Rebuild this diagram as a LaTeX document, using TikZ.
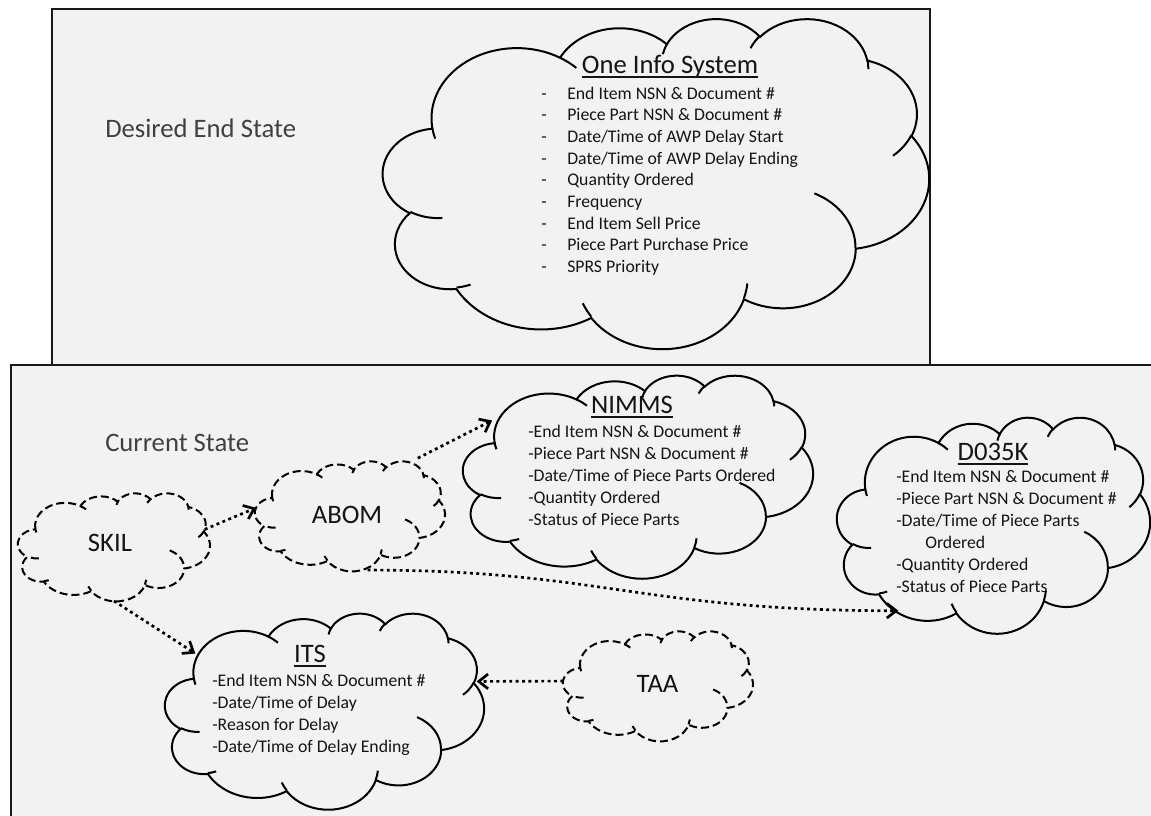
\documentclass[tikz,border=0pt]{standalone}
\usepackage{fontspec}
\setmainfont{Carlito}
\usetikzlibrary{arrows.meta,shapes.geometric}

\definecolor{panel}{HTML}{F2F2F2}
\definecolor{ink}{HTML}{141414}
\definecolor{statecol}{HTML}{404040}

% Elliptic arcs are given by "visual" angles (as seen from the arc centre);
% vis() turns such an angle into TikZ's parametric angle.
\tikzset{
  declare function={
    vis(\pA,\pX,\pY)=atan2(\pX*sin(\pA),\pY*cos(\pA));
    dvis(\pA,\pS,\pX,\pY)=mod(vis(\pA+\pS,\pX,\pY)-vis(\pA,\pX,\pY)+720,360);
  },
  cloudbox/.style 2 args={ellipse, minimum width={#1*0.75pt}, minimum height={#2*0.75pt},
    inner sep=0pt, outer sep=0pt},
  solidcloud/.style={draw=black, line width=1.5pt},
  dashcloud/.style={draw=black, line width=1.5pt, dash pattern=on 6pt off 3pt},
  panelbox/.style={fill=panel, draw=black!90, line width=1.8pt},
  link/.style={line width=2pt, dash pattern=on 2.2pt off 2.6pt,
    -{Straight Barb[length=7pt,width=11pt]}},
  itemtext/.style={font=\fontsize{13.3}{16}\selectfont, text=ink, anchor=base west, inner sep=0pt},
  titletext/.style={font=\fontsize{20}{24}\selectfont, text=ink, anchor=base, inner sep=0pt},
  cloudlabel/.style={font=\fontsize{20}{24}\selectfont, text=ink, anchor=base, inner sep=0pt},
  statelabel/.style={font=\fontsize{20}{24}\selectfont, text=statecol, anchor=base west, inner sep=0pt},
}

% one arc: x radius, y radius, start angle, sweep
\newcommand\carc[4]{arc[start angle={vis(#3,#1,#2)}, delta angle={dvis(#3,#4,#1,#2)},
  x radius=#1, y radius=#2]}

% cloud outline in a 43.2 x 43.2 frame (y downwards)
\newcommand\cloudoutline{(3.9,14.37)
  \carc{6.753}{9.19}{-190.4875}{123.7805}
  \carc{5.333}{7.267}{-144.1024}{89.9452}
  \carc{4.365}{5.945}{-145.8079}{99.7230}
  \carc{4.857}{6.595}{-130.9861}{117.2417}
  \carc{5.333}{7.273}{-78.7089}{109.0269}
  \carc{6.775}{9.22}{-46.2673}{130.2690}
  \carc{5.785}{7.867}{0.6250}{114.0333}
  \carc{6.752}{9.215}{22.4516}{115.1726}
  \carc{7.72}{10.543}{66.2426}{75.7110}
  \carc{4.36}{5.918}{-274.9421}{146.7356}
  \carc{4.345}{5.945}{-246.8285}{152.5189}
  -- cycle}

% the small inner folds of the cloud
\newcommand\cloudinner{
  (4.693,26.177) \carc{4.345}{5.945}{86.742}{26.4295}
  (6.928,34.899) \carc{4.36}{5.918}{73.6105}{11.4475}
  (16.478,39.09) \carc{6.752}{9.215}{137.6242}{14.0811}
  (28.827,34.751) \carc{6.752}{9.215}{6.4533}{15.9984}
  (34.129,22.954) \carc{5.785}{7.867}{-70.2924}{70.9174}
  (41.798,15.354) \carc{5.333}{7.273}{30.318}{27.7515}
  (38.324,5.426) \carc{4.857}{6.595}{-13.7443}{14.8589}
  (29.078,3.952) \carc{4.857}{6.595}{-149.1815}{18.1954}
  (22.141,4.72) \carc{4.365}{5.945}{-163.4943}{17.6864}
  (14.0,5.192) \carc{6.753}{9.19}{-66.707}{12.3194}
  (4.127,15.789) \carc{6.753}{9.19}{157.6544}{11.8582}}

% name, style, left, top, width, height (pixels)
\newcommand\cloudshape[6]{%
  \node[cloudbox={#5}{#6}] (#1) at ({#3+#5/2},{#4+#6/2}) {};
  \begin{scope}[shift={(#3,#4)}, xscale=#5/43.2, yscale=#6/43.2]
    \path[#2, fill=panel] \cloudoutline;
    \path[#2] \cloudinner;
  \end{scope}}

\begin{document}
\begin{tikzpicture}[x=0.75pt, y=0.75pt, yscale=-1]
  \useasboundingbox (0,0) rectangle (1151,815);
  \clip (0,0) rectangle (1151,815);

  % the two panels
  \path[panelbox] (51.7,9) rectangle (930,365);
  \path[panelbox, line width=1.5pt] (10.8,365) rectangle (1170,830);

  \node[statelabel] (desired) at (105,137) {Desired End State};
  \node[statelabel] (current) at (105,451) {Current State};

  % clouds
  \cloudshape{info}{solidcloud}{383}{18}{546}{330}
  \cloudshape{nimms}{solidcloud}{463}{375}{350}{203}
  \cloudshape{d035k}{solidcloud}{837}{417}{313}{216}
  \cloudshape{its}{solidcloud}{165}{613}{319}{196}
  \cloudshape{skil}{dashcloud}{18}{493}{192}{108}
  \cloudshape{abom}{dashcloud}{255}{461}{190}{110}
  \cloudshape{taa}{dashcloud}{563}{631}{190}{110}

  % connectors
  \draw[link] (skil.11) -- (abom.175);
  \draw[link, shorten <=17pt] (abom.45) -- (nimms.159);
  \draw[link] (abom.-72) .. controls +(233,0) and +(-258,0) .. (d035k.222);
  \draw[link] (skil.south) -- (its.156);
  \draw[link] (taa.177) -- (its.11);

  % plain cloud labels
  \node[cloudlabel] (skil-label) at (110,551) {SKIL};
  \node[cloudlabel] (abom-label) at (347,523) {ABOM};
  \node[cloudlabel] (taa-label) at (657.5,692) {TAA};

  % One Info System
  \newcommand\ulin[1]{\setbox0\hbox{#1}\rlap{\rule[-3.4pt]{\wd0}{1pt}}\box0}
  \node[titletext] (info-title) at (670,73) {\ulin{One Info System}};
  \foreach \txt [count=\i] in {End Item NSN \& Document \#, Piece Part NSN \& Document \#,
      Date/Time of AWP Delay Start, Date/Time of AWP Delay Ending, Quantity Ordered,
      Frequency, End Item Sell Price, Piece Part Purchase Price, SPRS Priority}
    \node[itemtext, name=info-\i] at (541,{99+21.7*(\i-1)}) {\makebox[19.5pt][l]{-}\txt};

  % NIMMS
  \node[titletext] (nimms-title) at (632,413) {\ulin{NIMMS}};
  \foreach \txt [count=\i] in {-End Item NSN \& Document \#, -Piece Part NSN \& Document \#,
      -Date/Time of Piece Parts Ordered, -Quantity Ordered, -Status of Piece Parts}
    \node[itemtext, name=nimms-\i] at (528,{437+22*(\i-1)}) {\txt};

  % D035K
  \node[titletext] (d035k-title) at (993,460) {\ulin{D035K}};
  \node[itemtext] (d035k-1) at (896,482) {-End Item NSN \& Document \#};
  \node[itemtext] (d035k-2) at (896,504) {-Piece Part NSN \& Document \#};
  \node[itemtext] (d035k-3) at (896,526.5) {-Date/Time of Piece Parts};
  \node[itemtext] (d035k-4) at (925,548) {Ordered};
  \node[itemtext] (d035k-5) at (896,570) {-Quantity Ordered};
  \node[itemtext] (d035k-6) at (896,592) {-Status of Piece Parts};

  % ITS
  \node[titletext] (its-title) at (310,662) {\ulin{ITS}};
  \foreach \txt [count=\i] in {-End Item NSN \& Document \#, -Date/Time of Delay,
      -Reason for Delay, -Date/Time of Delay Ending}
    \node[itemtext, name=its-\i] at (212,{686+22.3*(\i-1)}) {\txt};
\end{tikzpicture}
\end{document}
